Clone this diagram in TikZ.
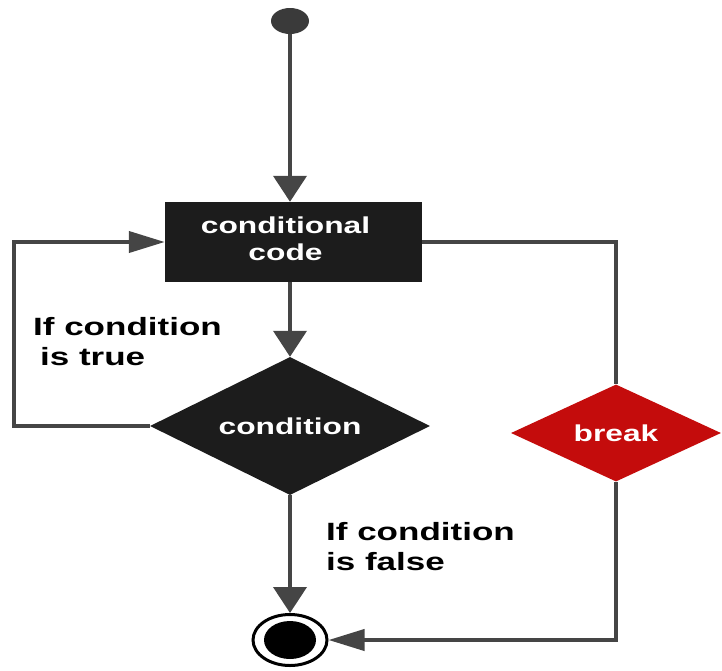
\documentclass[tikz,border=0pt]{standalone}
\usepackage{fontspec}
\usepackage{graphicx}
\setmainfont{Liberation Sans}
\usetikzlibrary{shapes.geometric,arrows.meta}
\definecolor{linec}{HTML}{454545}
\definecolor{boxc}{HTML}{1C1C1C}
\definecolor{startc}{HTML}{3A3A3A}
\definecolor{breakc}{RGB}{196,12,12}
\newcommand\ndfont{\fontsize{23}{27}\selectfont\bfseries}
\newcommand\lblfont{\fontsize{25}{30}\selectfont\bfseries}
\newcommand\sx[1]{\scalebox{1.38}[1]{#1}}
\newcommand\sy[1]{\scalebox{1.4}[1]{#1}}
\begin{document}
\begin{tikzpicture}[x=1pt,y=-1pt,
  conn/.style={draw=linec,line width=4pt},
  varr/.style={conn,-{Triangle[length=26pt,width=33pt]}},
  harr/.style={conn,-{Triangle[length=36pt,width=21pt]}},
  darkbox/.style={fill=boxc,draw=none,inner sep=0pt,text=white,font=\ndfont},
  lbl/.style={anchor=base west,inner sep=0pt,font=\lblfont,text=black}]
\useasboundingbox (0,0) rectangle (722,670);
\node[ellipse,fill=startc,minimum width=38pt,minimum height=26pt,inner sep=0pt] (start) at (290,21) {};
\node[darkbox,rectangle,minimum width=257pt,minimum height=80pt] (box) at (293.5,242)
  {\sx{\begin{tabular}{@{}c@{}}conditional\\code\end{tabular}}\hspace*{16pt}};
\node[darkbox,diamond,aspect=2,minimum width=280pt,minimum height=138pt] (cond) at (290,426) {\sx{condition}};
\node[darkbox,diamond,aspect=2,fill=breakc,minimum width=210pt,minimum height=97pt] (brk) at (616,433) {\sx{break}};
\node[ellipse,draw=black,line width=3pt,fill=white,minimum width=74pt,minimum height=51pt,inner sep=0pt] (end) at (290,640) {};
\node[ellipse,fill=black,minimum width=52pt,minimum height=38pt,inner sep=0pt] (endin) at (end.center) {};
\node[lbl] (ltrue) at (33,335) {\sy{\begin{tabular}[t]{@{}l@{}}If condition\\\hspace*{5pt}is true\end{tabular}}};
\node[lbl] (lfalse) at (326,540) {\sy{\begin{tabular}[t]{@{}l@{}}If condition\\is false\end{tabular}}};
\coordinate (lc) at (14,426);
\draw[varr] (start) -- (start |- box.north);
\draw[varr] (box.south -| cond.north) -- (cond.north);
\draw[varr] (cond.south) -- (end.north);
\draw[harr] (cond.west) -- (lc) |- (box.west);
\draw[conn] (box.east) -| (brk.north);
\draw[harr] (brk.south) |- (end.east);
\end{tikzpicture}
\end{document}
